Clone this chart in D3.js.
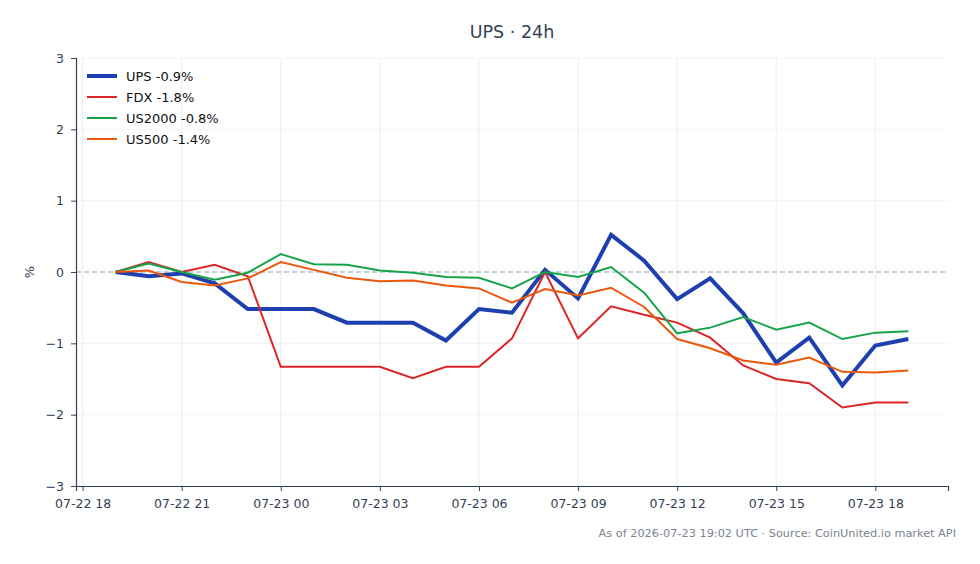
<!DOCTYPE html>
<html>
<head>
<meta charset="utf-8">
<script src="https://cdn.jsdelivr.net/npm/d3@7"></script>
<style>
  body { margin: 0; background: #fff; }
  svg { font-family: "DejaVu Sans", sans-serif; }
</style>
</head>
<body>
<div id="chart"></div>
<script>
// hourly points, 07-22 19:00 to 07-23 19:00 UTC
const startTime = Date.UTC(2026, 6, 22, 19);
const hours = d3.range(25).map(i => new Date(startTime + i * 3600e3));

const ups = [0, -0.06, -0.02, -0.16, -0.52, -0.52, -0.52, -0.71, -0.71, -0.71, -0.96, -0.52, -0.57,
    0.03, -0.37, 0.52, 0.16, -0.38, -0.09, -0.58, -1.27, -0.92, -1.59, -1.03, -0.94];
const fdx = [0, 0.14, 0.0, 0.1, -0.06, -1.33, -1.33, -1.33, -1.33, -1.49, -1.33, -1.33, -0.93,
    0.0, -0.93, -0.48, -0.6, -0.71, -0.92, -1.31, -1.5, -1.56, -1.9, -1.83, -1.83];
const us2000 = [0, 0.12, 0.0, -0.11, -0.01, 0.25, 0.11, 0.1, 0.02, -0.01, -0.07, -0.08, -0.23,
    0.0, -0.07, 0.07, -0.29, -0.86, -0.78, -0.63, -0.81, -0.71, -0.94, -0.85, -0.83];
const us500 = [0, 0.02, -0.14, -0.19, -0.09, 0.14, 0.03, -0.08, -0.13, -0.12, -0.19, -0.23, -0.43,
    -0.24, -0.33, -0.22, -0.49, -0.94, -1.07, -1.24, -1.3, -1.2, -1.4, -1.41, -1.38];

const seriesNames = ['UPS -0.9%', 'FDX -1.8%', 'US2000 -0.8%', 'US500 -1.4%'];
const seriesValues = [ups, fdx, us2000, us500];
const seriesColors = ['#1e40af', '#dc2626', '#16a34a', '#ea580c'];
const seriesWidths = [4, 2, 2, 2];

const yTicks = [-3, -2, -1, 0, 1, 2, 3];
const xTicks = d3.range(9).map(i => new Date(Date.UTC(2026, 6, 22, 18) + i * 3 * 3600e3));

const width = 980, height = 564;
const margin = { top: 58, right: 32, bottom: 78, left: 76 };

const svg = d3.select('#chart').append('svg')
    .attr('width', width)
    .attr('height', height);

// 5% padding either side of the time span
const pad = (hours[hours.length - 1] - hours[0]) * 0.05;
const x = d3.scaleUtc()
    .domain([new Date(+hours[0] - pad), new Date(+hours[hours.length - 1] + pad)])
    .range([margin.left, width - margin.right]);

const y = d3.scaleLinear()
    .domain([-3, 3])
    .range([height - margin.bottom, margin.top]);

// grid
svg.append('g').selectAll('line')
    .data(xTicks).enter().append('line')
    .attr('x1', d => x(d)).attr('x2', d => x(d))
    .attr('y1', margin.top).attr('y2', height - margin.bottom)
    .attr('stroke', '#e5e7eb').attr('stroke-width', 0.8);

svg.append('g').selectAll('line')
    .data(yTicks).enter().append('line')
    .attr('x1', margin.left).attr('x2', width - margin.right)
    .attr('y1', d => y(d)).attr('y2', d => y(d))
    .attr('stroke', '#eef0f3').attr('stroke-width', 0.8);

// zero reference
svg.append('line')
    .attr('x1', margin.left).attr('x2', width - margin.right)
    .attr('y1', y(0)).attr('y2', y(0))
    .attr('stroke', '#94a3b8').attr('stroke-width', 1)
    .attr('stroke-dasharray', '5,3');

// axes
const fmt = d3.utcFormat('%m-%d %H');
const xAxis = svg.append('g')
    .attr('transform', `translate(0,${height - margin.bottom})`)
    .call(d3.axisBottom(x).tickValues(xTicks).tickFormat(fmt).tickSize(5).tickPadding(8));

const yAxis = svg.append('g')
    .attr('transform', `translate(${margin.left},0)`)
    .call(d3.axisLeft(y).tickValues(yTicks).tickFormat(d => d < 0 ? '\u2212' + Math.abs(d) : d).tickSize(5).tickPadding(7));

[xAxis, yAxis].forEach(a => {
    a.select('.domain').attr('stroke', '#334155').attr('stroke-width', 1.2);
    a.selectAll('.tick line').attr('stroke', '#334155');
    a.selectAll('.tick text').attr('fill', '#334155')
        .style('font-family', '"DejaVu Sans", sans-serif').style('font-size', '12.5px');
});

svg.append('text')
    .attr('transform', `translate(34,${y(0)}) rotate(-90)`)
    .attr('text-anchor', 'middle')
    .attr('fill', '#334155')
    .style('font-size', '13px')
    .text('%');

// lines
const line = d3.line()
    .x((d, i) => x(hours[i]))
    .y(d => y(d));

svg.append('g').selectAll('path')
    .data(seriesValues).enter().append('path')
    .attr('d', d => line(d))
    .attr('fill', 'none')
    .attr('stroke', (d, i) => seriesColors[i])
    .attr('stroke-width', (d, i) => seriesWidths[i])
    .attr('stroke-linejoin', 'miter');

// legend
const legend = svg.append('g').attr('transform', 'translate(87,76)');
seriesNames.forEach((name, i) => {
    const row = legend.append('g').attr('transform', `translate(0,${i * 21})`);
    row.append('line')
        .attr('x1', 0).attr('x2', 30)
        .attr('stroke', seriesColors[i])
        .attr('stroke-width', seriesWidths[i]);
    row.append('text')
        .attr('x', 39).attr('dy', '0.35em')
        .attr('fill', '#111')
        .style('font-size', '13px')
        .text(name);
});

// title and footer
svg.append('text')
    .attr('x', 512).attr('y', 38)
    .attr('text-anchor', 'middle')
    .attr('fill', '#334155')
    .style('font-size', '17.5px')
    .text('UPS \u00b7 24h');

svg.append('text')
    .attr('x', 956).attr('y', 537)
    .attr('text-anchor', 'end')
    .attr('fill', '#7b8390')
    .style('font-size', '11.3px')
    .text('As of 2026-07-23 19:02 UTC \u00b7 Source: CoinUnited.io market API');
</script>
</body>
</html>
